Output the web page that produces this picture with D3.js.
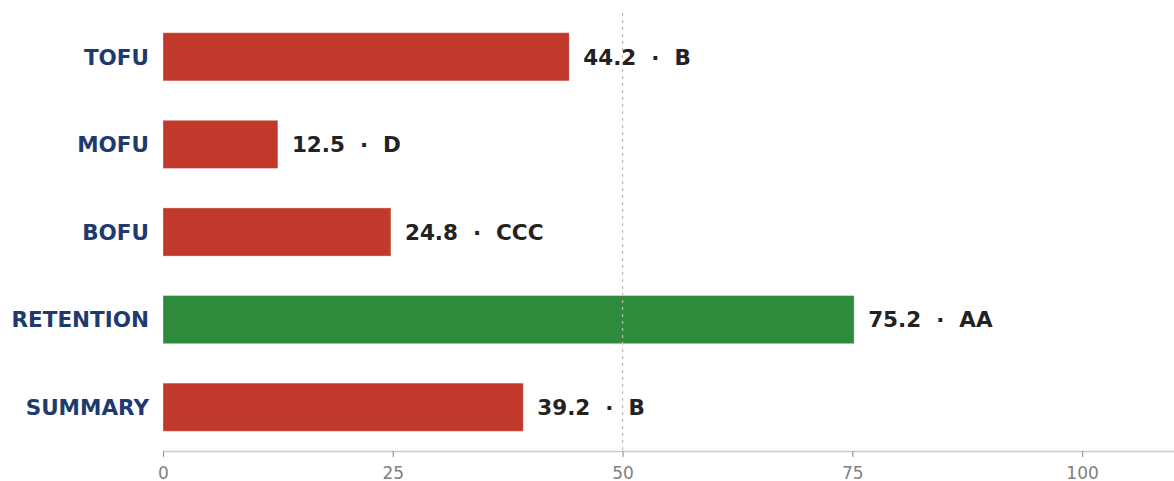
<!DOCTYPE html>
<html><head><meta charset="utf-8">
<script src="https://cdn.jsdelivr.net/npm/d3@7"></script>
<style>html,body{margin:0;padding:0;background:#fff;}svg{display:block;}</style>
</head><body>
<svg id="chart" width="1174" height="481"></svg>
<script>
const categories = ["TOFU", "MOFU", "BOFU", "RETENTION", "SUMMARY"];
const values = [44.2, 12.5, 24.8, 75.2, 39.2];
const grades = ["B", "D", "CCC", "AA", "B"];
const tickValues = [0, 25, 50, 75, 100];
const referenceValue = 50;
const xMax = 110;

const svg = d3.select("#chart");
const plotLeft = 163, plotRight = 1174, plotTop = 13, plotBottom = 451;
const x = d3.scaleLinear().domain([0, xMax]).range([plotLeft, plotRight]);
const y = d3.scaleBand().domain(categories).range([plotTop, plotBottom]).paddingInner(0.45).paddingOuter(0.225);

const colorFor = g => (g === "AA" || g === "AAA" || g === "A") ? "#2f8b3c" : "#c0392b";

// bars
svg.append("g").selectAll("rect").data(categories).join("rect")
  .attr("x", x(0))
  .attr("y", d => y(d))
  .attr("width", (d, i) => x(values[i]) - x(0))
  .attr("height", y.bandwidth())
  .attr("fill", (d, i) => colorFor(grades[i]))
  .attr("stroke", "#ffffff").attr("stroke-opacity", 0.35).attr("stroke-width", 1);

// reference line
svg.append("line")
  .attr("x1", x(referenceValue)).attr("x2", x(referenceValue))
  .attr("y1", plotTop).attr("y2", plotBottom)
  .attr("stroke", "#bbbbbb").attr("stroke-width", 1.2)
  .attr("stroke-dasharray", "3,4");

// value labels
svg.append("g").selectAll("text").data(categories).join("text")
  .attr("x", (d, i) => x(values[i]) + 14)
  .attr("y", d => y(d) + y.bandwidth() / 2)
  .attr("dy", "0.36em")
  .attr("font-family", "DejaVu Sans")
  .attr("font-weight", "bold")
  .attr("font-size", "21.5px")
  .attr("fill", "#222222")
  .style("white-space", "pre")
  .text((d, i) => values[i].toFixed(1) + "  \u00b7  " + grades[i]);

// y axis labels
svg.append("g").selectAll("text").data(categories).join("text")
  .attr("x", plotLeft - 14)
  .attr("y", d => y(d) + y.bandwidth() / 2)
  .attr("dy", "0.36em")
  .attr("text-anchor", "end")
  .attr("font-family", "DejaVu Sans")
  .attr("font-weight", "bold")
  .attr("font-size", "21.5px")
  .attr("fill", "#1f3a6e")
  .text(d => d);

// x axis
const xAxis = d3.axisBottom(x).tickValues(tickValues).tickSize(6).tickPadding(10).tickSizeOuter(0);
const gx = svg.append("g").attr("transform", `translate(0,${plotBottom})`).call(xAxis);
gx.select(".domain").attr("stroke", "#cccccc").attr("stroke-width", 1.5);
gx.selectAll(".tick line").attr("stroke", "#999999").attr("stroke-width", 1.2);
gx.selectAll(".tick text").attr("font-family", "DejaVu Sans").attr("font-size", "17px").attr("fill", "#808080");
</script>
</body></html>
